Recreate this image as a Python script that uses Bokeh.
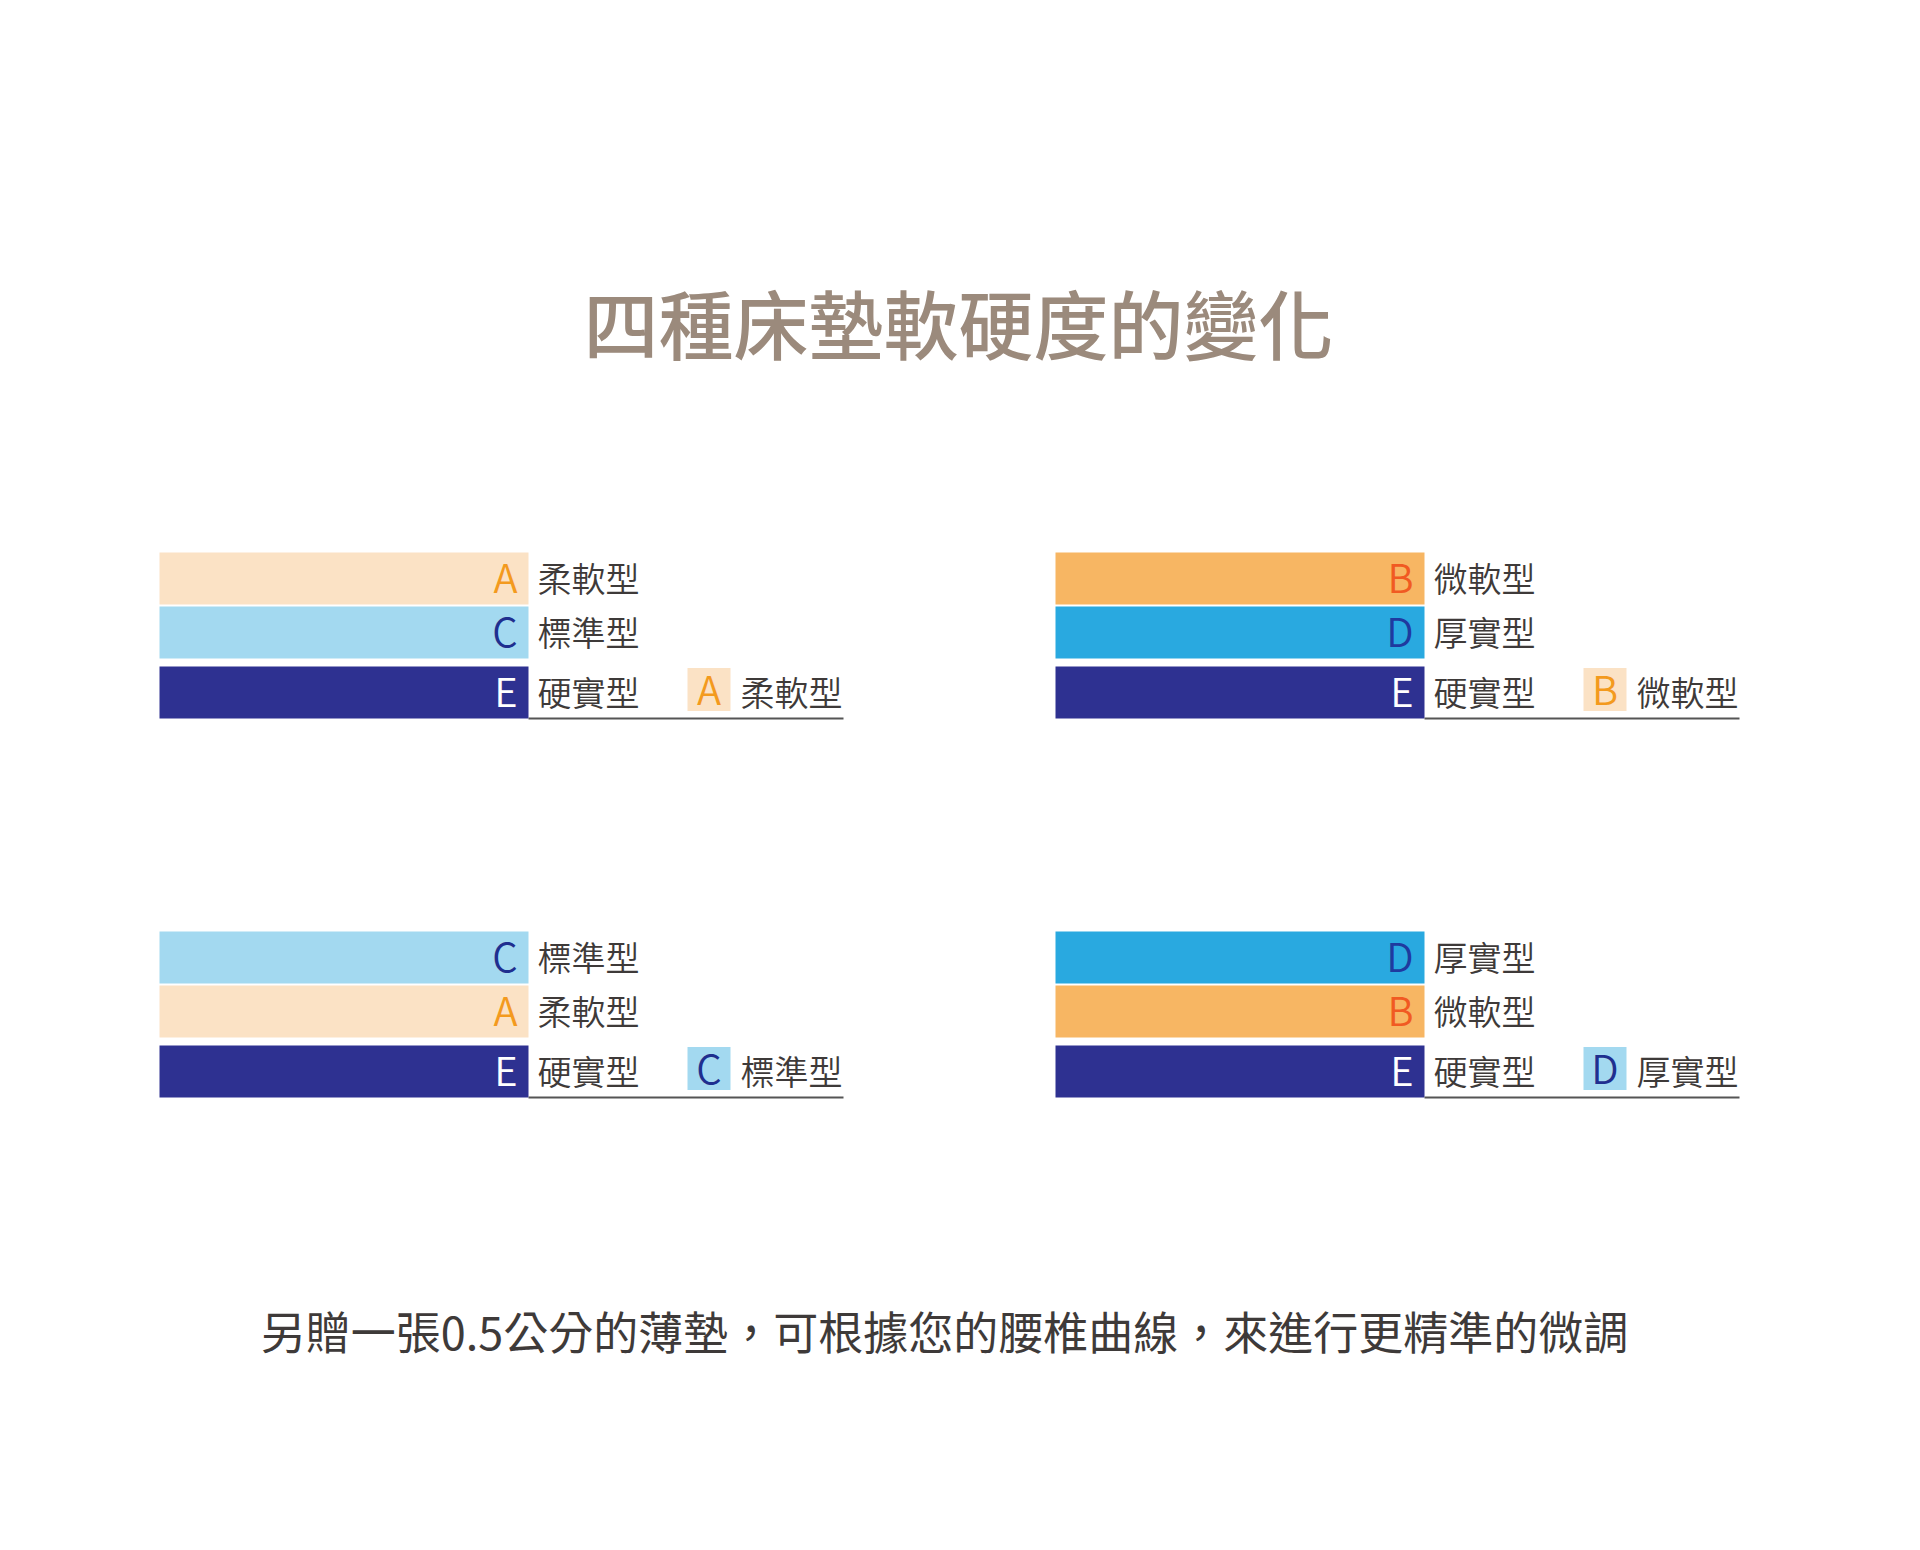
from bokeh.core.properties import value
from bokeh.embed import file_html
from bokeh.models import ColumnDataSource
from bokeh.plotting import figure
from bokeh.resources import INLINE

# grades of mattress firmness
grade_letters = ["A", "B", "C", "D", "E"]
grade_names = ["柔軟型", "微軟型", "標準型", "厚實型", "硬實型"]
bar_colors = ["#FBE2C5", "#F7B663", "#A3D9F0", "#29A9E0", "#2E3191"]
letter_colors = ["#F39A1E", "#F15A22", "#1F2F8F", "#1F3A9F", "#FFFFFF"]
swatch_colors = ["#FBE2C5", "#FBE2C5", "#A3D9F0", "#A3D9F0", "#2E3191"]
swatch_letter_colors = ["#F39A1E", "#F39A1E", "#1F2F8F", "#1F2F8F", "#FFFFFF"]

# four combinations, layers top to bottom, and the thin pad added
panel_stacks = [["A", "C", "E"], ["B", "D", "E"], ["C", "A", "E"], ["D", "B", "E"]]
panel_extra = ["A", "B", "C", "D"]

title = "四種床墊軟硬度的變化"
note = "另贈一張0.5公分的薄墊，可根據您的腰椎曲線，來進行更精準的微調"

FONT = "Noto Sans CJK TC"
LABEL_FONT = "Noto Sans CJK TC DemiLight"
TITLE_FONT = "Noto Sans CJK TC Medium"

# layout (page pixels)
panel_x = [167, 1063, 167, 1063]
panel_y = [560, 560, 939, 939]
bar_w = 369
row_h = 52
row_gap = [0, 2, 8]
line_len = 315

p = figure(width=1904, height=1534, x_range=(8, 1912), y_range=(1542, 8),
           output_backend="svg", toolbar_location=None, min_border=0)
p.axis.visible = False
p.grid.visible = False
p.outline_line_color = None
p.background_fill_color = "white"
p.border_fill_color = "white"

bars = dict(left=[], right=[], top=[], bottom=[], color=[])
letters = dict(x=[], y=[], text=[], color=[])
names = dict(x=[], y=[], text=[])
lines = dict(x0=[], x1=[], y=[])
sw = dict(left=[], right=[], top=[], bottom=[], color=[])
sw_letters = dict(x=[], y=[], text=[], color=[])

for k, stack in enumerate(panel_stacks):
    x0 = panel_x[k]
    y = panel_y[k]
    for r, g in enumerate(stack):
        i = grade_letters.index(g)
        y += row_gap[r]
        bars["left"].append(x0)
        bars["right"].append(x0 + bar_w)
        bars["top"].append(y)
        bars["bottom"].append(y + row_h)
        bars["color"].append(bar_colors[i])
        letters["x"].append(x0 + bar_w - 11)
        letters["y"].append(y + row_h / 2 - 3)
        letters["text"].append(g)
        letters["color"].append(letter_colors[i])
        names["x"].append(x0 + bar_w + 9)
        names["y"].append(y + row_h / 2 - 1)
        names["text"].append(grade_names[i])
        y += row_h
    # underline of the bottom layer and the extra pad
    lines["x0"].append(x0 + bar_w)
    lines["x1"].append(x0 + bar_w + line_len)
    lines["y"].append(y)
    e = grade_letters.index(panel_extra[k])
    sx = x0 + bar_w + 159
    sy = y - row_h / 2 - 3
    sw["left"].append(sx)
    sw["right"].append(sx + 43)
    sw["top"].append(sy - 21.5)
    sw["bottom"].append(sy + 21.5)
    sw["color"].append(swatch_colors[e])
    sw_letters["x"].append(sx + 21.5)
    sw_letters["y"].append(sy - 2)
    sw_letters["text"].append(panel_extra[k])
    sw_letters["color"].append(swatch_letter_colors[e])
    names["x"].append(sx + 53)
    names["y"].append(y - row_h / 2 - 1)
    names["text"].append(grade_names[e])

p.quad(left="left", right="right", top="top", bottom="bottom", fill_color="color",
       line_color=None, source=ColumnDataSource(bars))
p.segment(x0="x0", y0="y", x1="x1", y1="y", line_color="#555555", line_width=2,
          source=ColumnDataSource(lines))
p.quad(left="left", right="right", top="top", bottom="bottom", fill_color="color",
       line_color=None, source=ColumnDataSource(sw))

p.text(x="x", y="y", text="text", text_color="color", text_font=value(LABEL_FONT),
       text_font_size="40px", text_align="right", text_baseline="middle",
       source=ColumnDataSource(letters))
p.text(x="x", y="y", text="text", text_color="color", text_font=value(LABEL_FONT),
       text_font_size="40px", text_align="center", text_baseline="middle",
       source=ColumnDataSource(sw_letters))
p.text(x="x", y="y", text="text", text_color="#3E3A39", text_font=value(LABEL_FONT),
       text_font_size="34px", text_align="left", text_baseline="middle",
       source=ColumnDataSource(names))

p.text(x=[966], y=[329], text=[title], text_color="#9B8A7C", text_font=value(TITLE_FONT),
       text_font_size="75px", text_align="center", text_baseline="middle")
p.text(x=[952], y=[1338], text=[note], text_color="#3E3A39", text_font=value(FONT),
       text_font_size="45px", text_align="center", text_baseline="middle")

open("out.html", "w").write(file_html(p, INLINE))
